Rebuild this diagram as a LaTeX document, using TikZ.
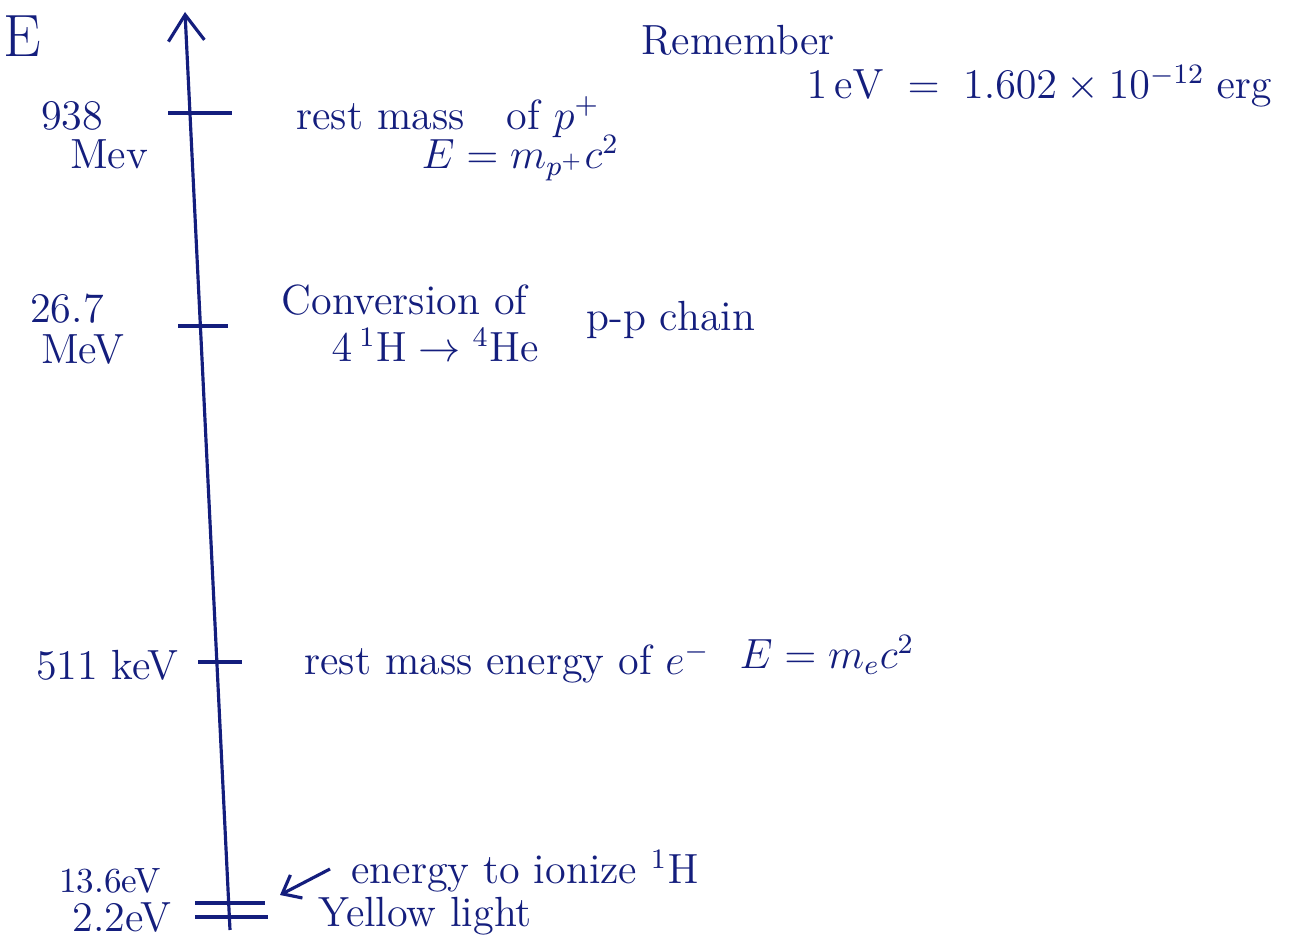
\documentclass[tikz,border=0pt]{standalone}
\usetikzlibrary{arrows.meta}
\definecolor{ink}{RGB}{20,30,125}
\begin{document}
\begin{tikzpicture}[ink,line width=0.9pt,font=\fontsize{12}{14}\selectfont,
  lbl/.style={inner sep=0pt,anchor=west},sm/.style={inner sep=0pt,font=\fontsize{10}{12}\selectfont}]
\useasboundingbox (0,0) rectangle (12.93,9.41);
\coordinate(bot)at(2.30,0.11);\coordinate(top)at(1.85,9.29);
\coordinate(tA)at(1.90,8.28);\coordinate(tB)at(2.00,6.15);\coordinate(tC)at(2.17,2.79);\coordinate(tD)at(2.29,0.38);\coordinate(tE)at(2.30,0.24);
\draw[-{Straight Barb[length=2.6mm,width=3.6mm]}](bot)--(top);
\draw(tA)++(-0.22,0)--++(0.64,0) (tB)++(-0.22,0)--++(0.50,0) (tC)++(-0.19,0)--++(0.44,0);
\draw(tD)++(-0.34,0)--++(0.70,0) (tE)++(-0.35,0)--++(0.73,0);
\node[inner sep=0pt,font=\fontsize{17}{19}\selectfont](E)at(0.22,9.05){E};
\node[inner sep=0pt](v938)at(0.72,8.25){938};\node[inner sep=0pt](mev1)at(1.09,7.87){Mev};
\node[inner sep=0pt](v267)at(0.67,6.32){26.7};\node[inner sep=0pt](mev2)at(0.83,5.91){MeV};
\node[inner sep=0pt,anchor=east](v511)at(1.80,2.76){511 keV};
\node[sm](v136)at(1.10,0.60){13.6eV};\node[inner sep=0pt](v22)at(1.22,0.23){2.2eV};
\node[lbl](proton)at(2.95,8.24){rest mass\quad of $p^+$};\node[lbl](Ep)at(4.20,7.83){$E=m_{p^+}c^2$};
\node[lbl](conv)at(2.80,6.41){Conversion of};\node[lbl](fus)at(3.30,5.96){$4\,{}^1\mathrm{H}\rightarrow{}^4\mathrm{He}$};
\node[lbl](pp)at(5.85,6.21){p-p chain};
\node[lbl](elec)at(3.03,2.78){rest mass energy of $e^-$};\node[lbl](Ee)at(7.38,2.86){$E=m_e c^2$};
\node[lbl](ion)at(3.50,0.70){energy to ionize ${}^1\mathrm{H}$};\node[lbl](yel)at(3.17,0.25){Yellow light};
\node[lbl](rem)at(6.40,9.01){Remember};\node[lbl](conv2)at(8.05,8.55){$1\,\mathrm{eV}\;=\;1.602\times10^{-12}\;\mathrm{erg}$};
\draw[-{Straight Barb[length=1.6mm,width=2.6mm]}](ion.west)++(-0.20,0.02)--(2.80,0.46);
\end{tikzpicture}
\end{document}
